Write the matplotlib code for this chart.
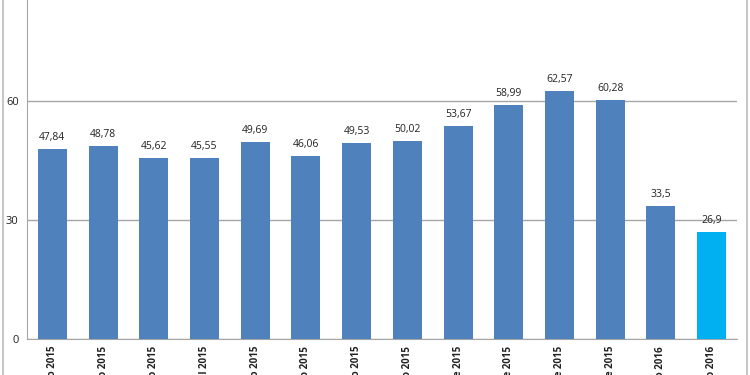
import matplotlib.pyplot as plt
import matplotlib.lines as mlines

plt.rcParams['font.family'] = ['Open Sans', 'DejaVu Sans']

months = ["Enero 2015", "Febrero 2015", "Marzo 2015", "Abril 2015", "Mayo 2015",
          "Junio 2015", "Julio 2015", "Agosto 2015", "Septiembre 2015",
          "Octubre 2015", "Noviembre 2015", "Diciembre 2015", "Enero 2016",
          "Febrero 2016"]
values = [47.84, 48.78, 45.62, 45.55, 49.69, 46.06, 49.53, 50.02, 53.67,
          58.99, 62.57, 60.28, 33.5, 26.9]
value_labels = ["47,84", "48,78", "45,62", "45,55", "49,69", "46,06", "49,53",
                "50,02", "53,67", "58,99", "62,57", "60,28", "33,5", "26,9"]
colors = ["#4F81BD"] * 13 + ["#00B0F0"]

W, H = 750, 375
fig = plt.figure(figsize=(7.5, 3.75), dpi=100)
# axes: left 27px, right 737px, zero line at y=339px, 90 units = 357px
ax = fig.add_axes([27 / W, 36 / H, 710 / W, 357 / H])

x = range(len(values))
bars = ax.bar(x, values, width=0.57, color=colors, zorder=3)
for b, lab in zip(bars, value_labels):
    ax.text(b.get_x() + b.get_width() / 2, b.get_height() + 1.5, lab,
            ha='center', va='bottom', fontsize=7.5, color='#222222')

ax.set_xlim(-0.5, len(values) - 0.5)
ax.set_ylim(0, 90)
ax.set_yticks([0, 30, 60])
ax.yaxis.grid(True, color='#A6A6A6', linewidth=1, zorder=0)
ax.set_xticks(list(x))
ax.set_xticklabels(months, rotation=90, fontsize=7, fontweight='bold',
                   va='top', ha='center')
ax.tick_params(axis='both', length=0, colors='#222222')
ax.tick_params(axis='x', pad=5, labelsize=7)
ax.tick_params(axis='y', pad=6, labelsize=8)
for s in ['top', 'right']:
    ax.spines[s].set_visible(False)
ax.spines['left'].set_color('#A6A6A6')
ax.spines['bottom'].set_color('#A6A6A6')

# chart border lines at the edges
fig.add_artist(mlines.Line2D([3 / W, 3 / W], [0, 1], color='#C8C8C8', linewidth=1.5))
fig.add_artist(mlines.Line2D([747 / W, 747 / W], [0, 1], color='#C8C8C8', linewidth=1.5))

fig.savefig('out.png', dpi=100)
